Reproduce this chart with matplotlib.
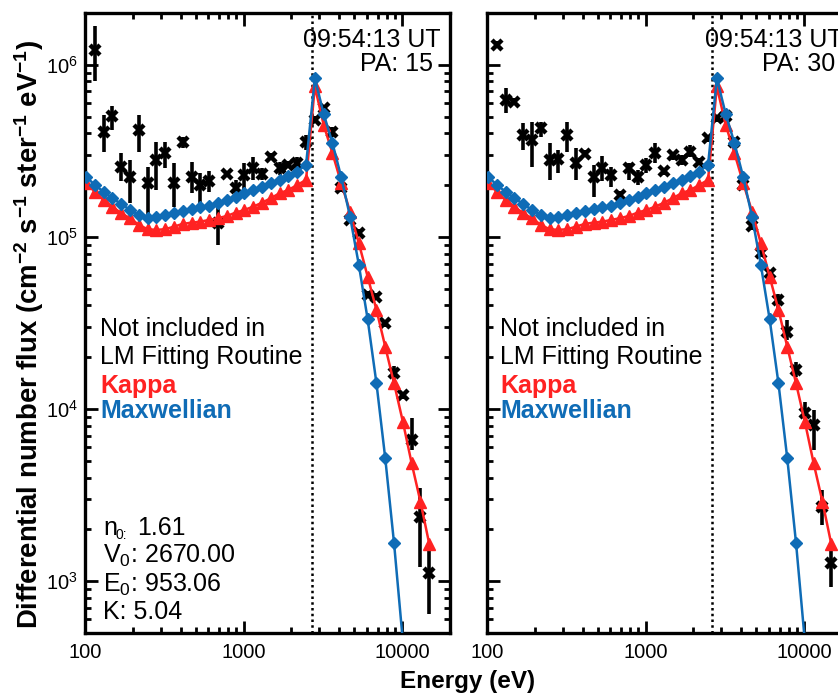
import matplotlib
matplotlib.use('Agg')
import matplotlib.pyplot as plt
from matplotlib import ticker

plt.rcParams['font.family'] = ['Liberation Sans', 'DejaVu Sans']
plt.rcParams['mathtext.fontset'] = 'custom'
plt.rcParams['mathtext.rm'] = 'Liberation Sans'
plt.rcParams['mathtext.it'] = 'Liberation Sans:italic'
plt.rcParams['mathtext.bf'] = 'Liberation Sans:bold'
plt.rcParams['mathtext.default'] = 'regular'

# ---------------- data ----------------
energy = [101.4, 115.2, 130.9, 148.8, 169.0, 192.1, 218.3, 248.0, 281.8, 320.3,
          363.9, 413.5, 469.9, 534.0, 606.7, 689.5, 783.4, 890.2, 1011.6, 1149.5,
          1306.2, 1484.3, 1686.6, 1916.5, 2177.8, 2474.7, 2812.0, 3195.4, 3630.8, 4125.8,
          4688.1, 5327.2, 6053.4, 6878.6, 7816.3, 8881.8, 10092, 11468, 13032, 14808]

# Maxwellian fit (first 37 channels)
maxwellian = [2.244e5, 2.004e5, 1.832e5, 1.679e5, 1.556e5, 1.435e5, 1.343e5, 1.282e5, 1.300e5, 1.343e5,
              1.384e5, 1.422e5, 1.449e5, 1.486e5, 1.514e5, 1.570e5, 1.641e5, 1.714e5, 1.811e5, 1.875e5,
              1.959e5, 2.051e5, 2.143e5, 2.265e5, 2.399e5, 2.624e5, 8.356e5, 5.188e5, 3.508e5, 2.223e5,
              1.312e5, 6.871e4, 3.319e4, 1.409e4, 5.164e3, 1.656e3, 447]

# Kappa fit
kappa = [2.070e5, 1.832e5, 1.641e5, 1.500e5, 1.374e5, 1.285e5, 1.175e5, 1.109e5, 1.099e5, 1.109e5,
         1.148e5, 1.191e5, 1.211e5, 1.227e5, 1.256e5, 1.285e5, 1.324e5, 1.384e5, 1.435e5, 1.500e5,
         1.581e5, 1.679e5, 1.795e5, 1.875e5, 2.004e5, 2.143e5, 7.482e5, 4.477e5, 3.069e5, 2.051e5,
         1.403e5, 9.183e4, 5.875e4, 3.767e4, 2.301e4, 1.409e4, 8.433e3, 4.831e3, 2.891e3, 1.641e3]

# Observed flux (channels 2..40), PA 15
obs15 = [1.22e6, 4.09e5, 5.01e5, 2.56e5, 2.24e5, 4.19e5, 2.05e5, 2.81e5, 3.07e5, 2.05e5,
         3.58e5, 2.24e5, 2.00e5, 2.10e5, 1.20e5, 2.32e5, 1.92e5, 2.29e5, 2.51e5, 2.32e5,
         2.93e5, 2.51e5, 2.62e5, 2.68e5, 3.58e5, 4.79e5, 5.60e5, 4.09e5, 1.92e5, 1.26e5,
         1.06e5, 4.60e4, 4.50e4, 3.15e4, 1.61e4, 1.21e4, 6.61e3, 2.37e3, 1.11e3]
obs15_lo = [8.0e5, 3.13e5, 4.19e5, 2.10e5, 1.57e5, 3.13e5, 1.29e5, 1.87e5, 2.51e5, 1.50e5,
            3.28e5, 1.79e5, 1.47e5, 1.83e5, 8.97e4, 2.22e5, 1.71e5, 1.87e5, 2.14e5, 2.14e5,
            2.80e5, 2.29e5, 2.51e5, 2.45e5, 3.21e5, 4.57e5, 5.35e5, 3.83e5, 1.83e5, 1.20e5,
            1.01e5, 4.40e4, 4.30e4, 3.01e4, 1.45e4, 1.15e4, 5.78e3, 1.21e3, 649]
obs15_hi = [1.67e6, 5.12e5, 5.73e5, 3.07e5, 2.81e5, 5.12e5, 2.56e5, 3.58e5, 3.58e5, 2.68e5,
            3.83e5, 2.74e5, 2.34e5, 2.40e5, 1.53e5, 2.43e5, 2.14e5, 2.68e5, 2.93e5, 2.51e5,
            3.07e5, 2.74e5, 2.75e5, 2.93e5, 3.92e5, 5.01e5, 5.86e5, 4.38e5, 2.01e5, 1.32e5,
            1.11e5, 4.82e4, 4.71e4, 3.30e4, 1.78e4, 1.26e4, 8.87e3, 3.50e3, 1.51e3]

# Observed flux (channels 2..40), PA 30
obs30 = [1.31e6, 6.27e5, 6.12e5, 3.92e5, 3.66e5, 4.29e5, 2.81e5, 2.83e5, 3.92e5, 2.68e5,
         3.04e5, 2.24e5, 2.51e5, 2.29e5, 1.75e5, 2.51e5, 2.24e5, 2.62e5, 3.07e5, 2.40e5,
         3.00e5, 2.81e5, 3.13e5, 2.74e5, 3.75e5, 4.90e5, 5.01e5, 3.58e5, 2.00e5, 1.15e5,
         8.04e4, 6.15e4, 4.31e4, 2.82e4, 1.69e4, 9.44e3, 8.07e3, 2.70e3, 1.27e3]
obs30_lo = [1.25e6, 5.24e5, 5.85e5, 3.21e5, 2.56e5, 3.83e5, 2.14e5, 2.34e5, 3.13e5, 2.14e5,
            2.90e5, 1.71e5, 2.10e5, 1.96e5, 1.67e5, 2.14e5, 2.00e5, 2.34e5, 2.68e5, 2.29e5,
            2.81e5, 2.62e5, 2.93e5, 2.62e5, 3.58e5, 4.68e5, 4.79e5, 3.42e5, 1.92e5, 1.10e5,
            7.68e4, 5.87e4, 3.89e4, 2.52e4, 1.54e4, 8.63e3, 5.78e3, 2.12e3, 927]
obs30_hi = [1.37e6, 7.31e5, 6.41e5, 4.58e5, 4.68e5, 4.68e5, 3.51e5, 3.21e5, 4.68e5, 3.28e5,
            3.18e5, 2.62e5, 2.96e5, 2.56e5, 1.84e5, 2.68e5, 2.45e5, 2.87e5, 3.51e5, 2.51e5,
            3.13e5, 3.00e5, 3.43e5, 2.87e5, 3.92e5, 5.13e5, 5.25e5, 3.75e5, 2.10e5, 1.20e5,
            8.41e4, 6.44e4, 4.68e4, 3.29e4, 1.88e4, 1.10e4, 9.86e3, 3.38e3, 1.51e3]

cutoff_energy = [2700, 2630]
pitch_angles = ['PA: 15', 'PA: 30']
time_label = '09:54:13 UT'
n0_value = '1.61'
fit_params = [r'V$_0$: 2670.00', r'E$_0$: 953.06', 'K: 5.04']

RED = '#ff2222'
BLUE = '#0f6cb6'
FS = 18

W, H = 838, 693
fig = plt.figure(figsize=(W / 100, H / 100), dpi=100)

panels = [
    (85, obs15, obs15_lo, obs15_hi),
    (487, obs30, obs30_lo, obs30_hi),
]
for i, (x0, obs, lo, hi) in enumerate(panels):
    ax = fig.add_axes([x0 / W, 1 - 633 / H, 365 / W, 620 / H])
    e_obs = energy[1:]
    yerr = [[o - l for o, l in zip(obs, lo)], [h - o for o, h in zip(obs, hi)]]
    ax.errorbar(e_obs, obs, yerr=yerr, fmt='x', color='k', ms=7.5, mew=3.2,
                elinewidth=2.6, capsize=0, zorder=2)
    ax.plot(energy, kappa, '-', color=RED, lw=1.8, marker='^', ms=9,
            mfc=RED, mec=RED, zorder=3)
    ax.plot(energy[:len(maxwellian)], maxwellian, '-', color=BLUE, lw=1.8, marker='D',
            ms=6.3, mfc=BLUE, mec=BLUE, zorder=4)
    ax.axvline(cutoff_energy[i], color='k', ls=(0, (1, 1.3)), lw=1.8, zorder=1)

    ax.set_xscale('log')
    ax.set_yscale('log')
    ax.set_xlim(100, 20000)
    ax.set_ylim(500, 2e6)
    ax.xaxis.set_major_locator(ticker.LogLocator(base=10))
    ax.xaxis.set_minor_locator(ticker.LogLocator(base=10, subs=range(2, 10)))
    ax.xaxis.set_major_formatter(ticker.FuncFormatter(lambda v, p: f'{v:.0f}'))
    ax.xaxis.set_minor_formatter(ticker.NullFormatter())
    ax.yaxis.set_minor_locator(ticker.LogLocator(base=10, subs=range(2, 10), numticks=20))
    ax.yaxis.set_minor_formatter(ticker.NullFormatter())
    ax.tick_params(which='both', direction='in', top=True, right=True, width=2.0,
                   labelsize=14.5)
    ax.tick_params(which='major', length=9, pad=7)
    ax.tick_params(which='minor', length=4.5)
    ax.tick_params(axis='y', which='major', pad=5)
    for s in ax.spines.values():
        s.set_linewidth(2.4)
    if i == 1:
        ax.tick_params(labelleft=False)

    off = x0 - 85
    fig.text((441 + off) / W, 1 - 47 / H, time_label, ha='right', va='baseline', fontsize=FS)
    fig.text((433 + off) / W, 1 - 71 / H, pitch_angles[i], ha='right', va='baseline', fontsize=FS)
    tx = 100 + off - (2 if i == 1 else 0)
    fig.text(tx / W, 1 - 336 / H, 'Not included in', ha='left', va='baseline', fontsize=FS)
    fig.text(tx / W, 1 - 364 / H, 'LM Fitting Routine', ha='left', va='baseline', fontsize=FS)
    fig.text(tx / W, 1 - 393 / H, 'Kappa', ha='left', va='baseline', fontsize=FS,
             fontweight='bold', color=RED)
    fig.text(tx / W, 1 - 418 / H, 'Maxwellian', ha='left', va='baseline', fontsize=FS,
             fontweight='bold', color=BLUE)

# fit parameter block (left panel)
fig.text(103 / W, 1 - 535 / H, 'n', ha='left', va='baseline', fontsize=FS)
fig.text(116 / W, 1 - 539 / H, '0:', ha='left', va='baseline', fontsize=10)
fig.text(137 / W, 1 - 535 / H, n0_value, ha='left', va='baseline', fontsize=FS)
for txt, yb in zip(fit_params, [563, 592, 619]):
    fig.text(103 / W, 1 - yb / H, txt, ha='left', va='baseline', fontsize=FS)

fig.text(468 / W, 1 - 688 / H, 'Energy (eV)', ha='center', va='baseline',
         fontsize=17.5, fontweight='bold')
fig.text(29 / W, 1 - 334 / H,
         r'Differential number flux (cm$^{-2}$ s$^{-1}$ ster$^{-1}$ eV$^{-1}$)',
         rotation=90, ha='center', va='center', fontsize=19.8, fontweight='bold')

fig.savefig('out.png', dpi=100)
